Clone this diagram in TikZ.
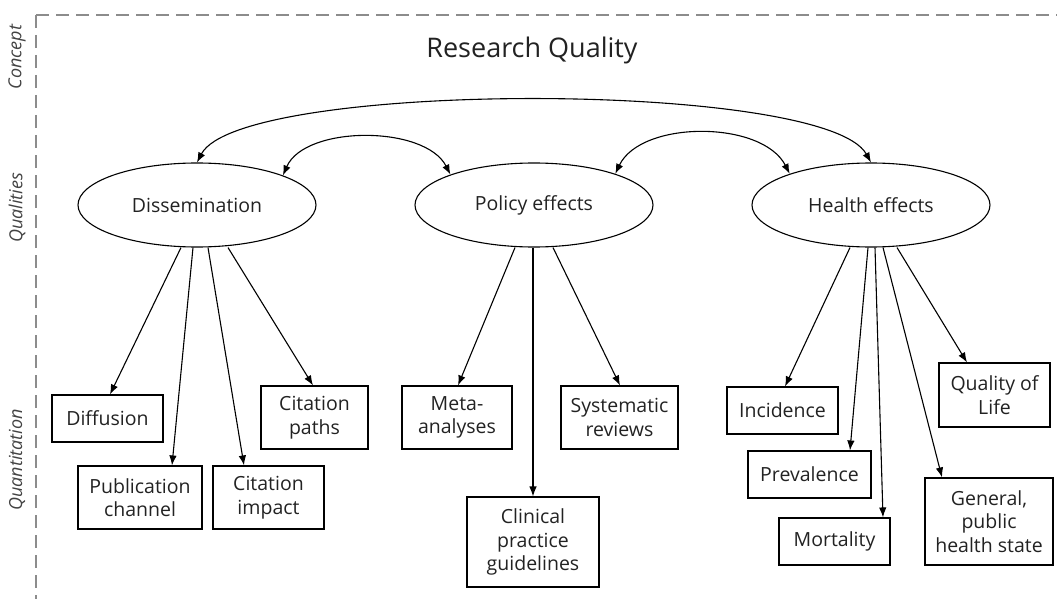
\documentclass[tikz,border=0pt]{standalone}
\usepackage{fontspec}
\setmainfont{Open Sans}
\usetikzlibrary{arrows.meta,shapes.geometric,calc}
\definecolor{txt}{HTML}{222222}
\definecolor{frame}{HTML}{8C8C8C}
\begin{document}
\begin{tikzpicture}[x=1pt,y=-1pt,
  every node/.style={text=txt},
  qual/.style={ellipse,draw,line width=1.1pt,minimum width=238pt,minimum height=84pt,inner sep=0pt,font=\fontsize{19.5}{23}\selectfont},
  qbox/.style={rectangle,draw,line width=1.1pt,inner sep=0pt,align=center,font=\fontsize{19.5}{23.5}\selectfont},
  arr/.style={-{Latex[length=10pt,width=7.5pt]},line width=1.1pt},
  darr/.style={{Latex[length=10pt,width=7.5pt]}-{Latex[length=10pt,width=7.5pt]},line width=1.1pt},
  side/.style={rotate=90,font=\fontsize{18}{21}\selectfont\itshape,text=txt!85}]
\useasboundingbox (0,0) rectangle (1057,599);
% frame
\draw[frame,line width=1.3pt,dash pattern=on 13pt off 7pt] (36,15) -- (1057,15);
\draw[frame,line width=1.3pt,dash pattern=on 13pt off 7pt] (36,15) -- (36,599);
% side labels
\node[side] (lc) at (17,57) {Concept};
\node[side] (lq) at (17,208) {Qualities};
\node[side] (ln) at (17,460) {Quantitation};
% title
\node[font=\fontsize{27}{32}\selectfont] (title) at (532,50) {Research Quality};
% qualities
\node[qual] (dis) at (197,205) {Dissemination};
\node[qual] (pol) at (534,205) {Policy effects};
\node[qual] (hea) at (871,205) {Health effects};
% boxes
\node[qbox,minimum width=111pt,minimum height=47pt] (diff) at (107.5,418.5) {Diffusion};
\node[qbox,minimum width=124pt,minimum height=63pt] (pub) at (140,497.5) {Publication\\channel};
\node[qbox,minimum width=111pt,minimum height=63pt] (cimp) at (268.5,497.5) {Citation\\impact};
\node[qbox,minimum width=107pt,minimum height=63pt] (cpath) at (314.5,417.5) {Citation\\paths};
\node[qbox,minimum width=110pt,minimum height=63pt] (meta) at (457,417.5) {Meta-\\analyses};
\node[qbox,minimum width=117pt,minimum height=63pt] (sys) at (619.5,417.5) {Systematic\\reviews};
\node[qbox,minimum width=132pt,minimum height=90pt] (clin) at (533,542) {Clinical\\practice\\guidelines};
\node[qbox,minimum width=111pt,minimum height=47pt] (inc) at (782.5,410.5) {Incidence};
\node[qbox,minimum width=123pt,minimum height=47pt] (prev) at (809.5,474.5) {Prevalence};
\node[qbox,minimum width=111pt,minimum height=47pt] (mort) at (834.5,541.5) {Mortality};
\node[qbox,minimum width=111pt,minimum height=64pt] (qol) at (994.5,395) {Quality of\\Life};
\node[qbox,minimum width=128pt,minimum height=87pt] (gen) at (989,521.5) {General,\\public\\health state};
% curved arrows
\draw[darr] (dis.north) .. controls (240,80) and (825,80) .. (hea.north);
\draw[darr] (dis.19) .. controls (305,125) and (425,125) .. (pol.160);
\draw[darr] (pol.21) .. controls (641,120) and (762,120) .. (hea.159);
% dissemination
\draw[arr] ($(dis.south)+(-16,0)$) -- ($(diff.north)+(2.5,0)$);
\draw[arr] ($(dis.south)+(-4,0)$) -- ($(pub.north)+(32,0)$);
\draw[arr] ($(dis.south)+(11,0)$) -- ($(cimp.north)+(-24.5,0)$);
\draw[arr] ($(dis.south)+(31,0)$) -- ($(cpath.north)+(-1.5,0)$);
% policy
\draw[arr] ($(pol.south)+(-19,0)$) -- ($(meta.north)+(1,0)$);
\draw[arr] ($(pol.south)+(-1,0)$) -- (clin.north);
\draw[arr] ($(pol.south)+(19,0)$) -- ($(sys.north)+(0.5,0)$);
% health
\draw[arr] ($(hea.south)+(-21,0)$) -- ($(inc.north)+(2.5,0)$);
\draw[arr] ($(hea.south)+(-3,0)$) -- ($(prev.north)+(40.5,0)$);
\draw[arr] ($(hea.south)+(4,0)$) -- ($(mort.north)+(48.5,0)$);
\draw[arr] ($(hea.south)+(12,0)$) -- ($(gen.north)+(-47,0)$);
\draw[arr] ($(hea.south)+(26,0)$) -- ($(qol.north)+(-27.5,0)$);
\end{tikzpicture}
\end{document}
